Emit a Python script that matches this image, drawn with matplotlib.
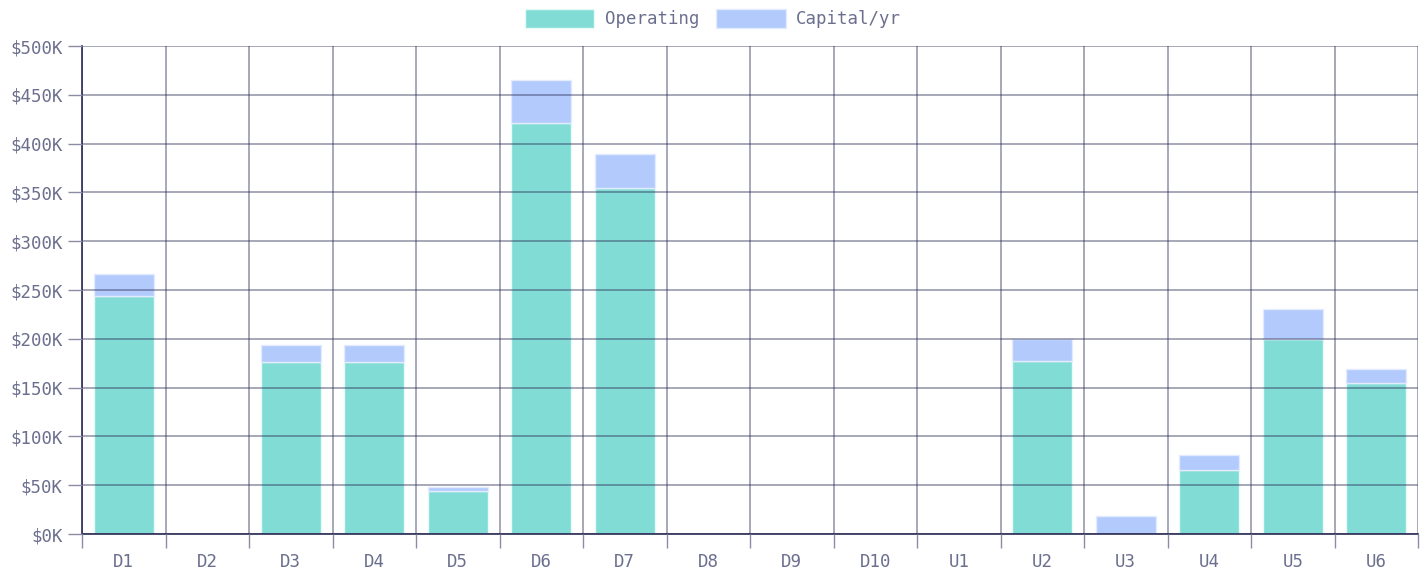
import matplotlib
matplotlib.use("Agg")
import matplotlib.pyplot as plt
import numpy as np
from matplotlib.ticker import FuncFormatter, MultipleLocator, FixedLocator

categories = ["D1", "D2", "D3", "D4", "D5", "D6", "D7", "D8", "D9", "D10",
              "U1", "U2", "U3", "U4", "U5", "U6"]
operating = [244, 0, 176, 176, 44, 421, 355, 0, 0, 0, 0, 177, 0, 66, 200, 155]
capital = [22, 0, 18, 18, 4, 44, 34, 0, 0, 0, 0, 23, 18, 15, 31, 14]

plt.rcParams['font.family'] = ['DejaVu Sans Mono']
text_color = "#6b6f8e"
grid_color = "#2b2d55"

fig = plt.figure(figsize=(14.26, 5.75), dpi=100)
ax = fig.add_axes([82/1426, 41/575, (1418-82)/1426, (534-46)/575])

x = np.arange(len(categories))
op = np.array(operating) * 1000
cp = np.array(capital) * 1000
w = 0.72
ax.bar(x, op, width=w, color="#80dcd4", edgecolor="#e6fbf8", linewidth=1, label="Operating", zorder=1)
ax.bar(x, cp, width=w, bottom=op, color="#b3cafd", edgecolor="#e3ebff", linewidth=1, label="Capital/yr", zorder=1)

ax.set_xlim(-0.5, len(categories) - 0.5)
ax.set_ylim(0, 500000)
ax.yaxis.set_major_locator(MultipleLocator(50000))
ax.yaxis.set_major_formatter(FuncFormatter(lambda v, p: f"${int(v/1000)}K"))
ax.set_xticks(x)
ax.set_xticklabels(categories)
ax.xaxis.set_minor_locator(FixedLocator(np.arange(-0.5, len(categories), 1)))

ax.tick_params(axis='x', which='major', length=0, pad=14, labelsize=12.5, colors=text_color)
ax.tick_params(axis='x', which='minor', length=10, width=1, color="#8a8ca6")
ax.tick_params(axis='y', which='major', length=10, width=1, color="#8a8ca6", labelsize=12.5, labelcolor=text_color, pad=4)

ax.grid(True, axis='y', which='major', color=grid_color, alpha=0.45, linewidth=1.3, zorder=3)
ax.grid(True, axis='x', which='minor', color=grid_color, alpha=0.45, linewidth=1.3, zorder=3)
ax.set_axisbelow(False)

for s in ['top', 'right']:
    ax.spines[s].set_visible(False)
ax.spines['left'].set_color("#3a3c60")
ax.spines['bottom'].set_color("#3a3c60")
ax.spines['left'].set_linewidth(1.3)
ax.spines['bottom'].set_linewidth(1.3)

leg = fig.legend(loc='upper center', bbox_to_anchor=(0.5, 1.012), ncol=2, frameon=False,
                 handlelength=4.0, handleheight=1.3, columnspacing=1.0, handletextpad=0.6,
                 fontsize=12.5)
for t in leg.get_texts():
    t.set_color(text_color)

fig.savefig("out.png", dpi=100)
